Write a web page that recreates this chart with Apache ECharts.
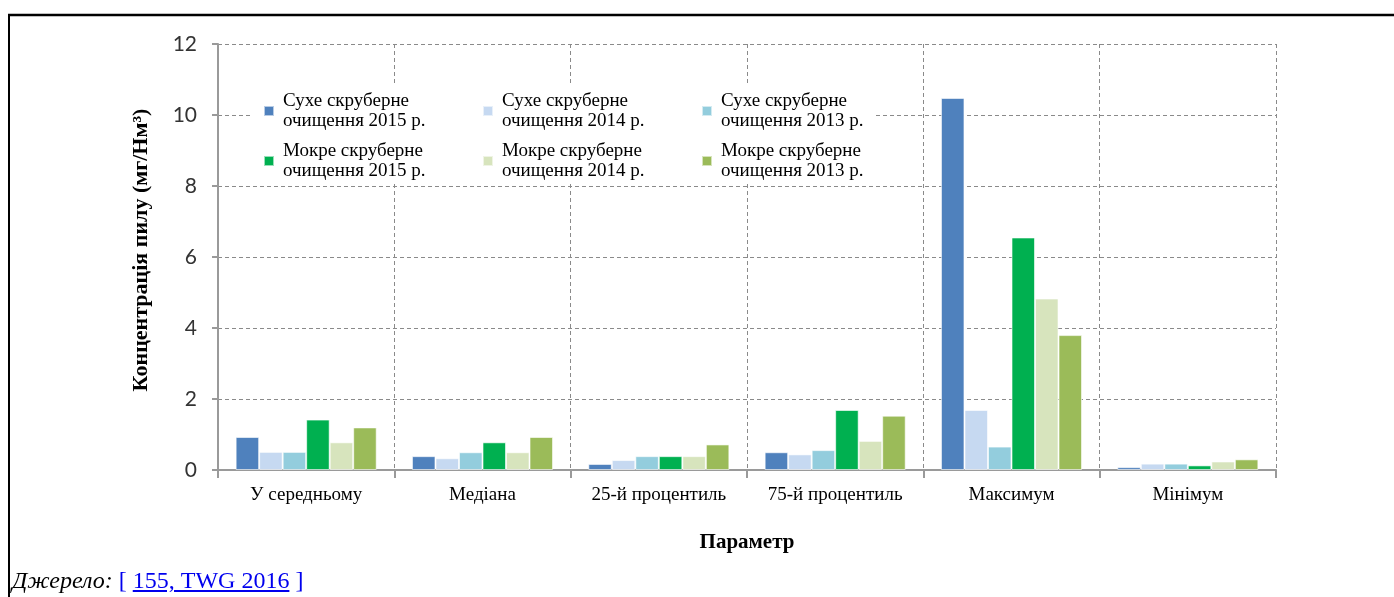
<!DOCTYPE html>
<html><head><meta charset="utf-8">
<script src="https://cdn.jsdelivr.net/npm/echarts@6/dist/echarts.min.js"></script>
<style>html,body{margin:0;padding:0;background:#fff}#c{width:1394px;height:597px}
#src{position:absolute;left:12px;top:567px;font-family:"Liberation Serif","Times New Roman",serif;font-size:24px;color:#000;white-space:nowrap}
#src a{color:#0000ee}
#src i{font-style:italic}</style>
</head><body><div id="c"></div>
<div id="src"><i>Джерело:</i> <span style="color:#0000ee">[ <a href="#">155, TWG 2016</a> ]</span></div>
<script>
const categories = ['У середньому', 'Медіана', '25-й процентиль', '75-й процентиль', 'Максимум', 'Мінімум'];
const seriesNames = [
  'Сухе скруберне\nочищення 2015 р.', 'Сухе скруберне\nочищення 2014 р.', 'Сухе скруберне\nочищення 2013 р.',
  'Мокре скруберне\nочищення 2015 р.', 'Мокре скруберне\nочищення 2014 р.', 'Мокре скруберне\nочищення 2013 р.'
];
const dry2015 = [0.93, 0.39, 0.17, 0.50, 10.48, 0.08];
const dry2014 = [0.51, 0.33, 0.28, 0.44, 1.69, 0.18];
const dry2013 = [0.51, 0.50, 0.39, 0.56, 0.66, 0.18];
const wet2015 = [1.42, 0.78, 0.39, 1.69, 6.55, 0.13];
const wet2014 = [0.78, 0.50, 0.39, 0.82, 4.83, 0.24];
const wet2013 = [1.20, 0.93, 0.72, 1.53, 3.80, 0.30];
const yTicks = [0, 2, 4, 6, 8, 10, 12];
const colors = ['#4F81BD', '#C6D9F1', '#93CDDD', '#00B050', '#D7E4BD', '#9BBB59'];
const allData = [dry2015, dry2014, dry2013, wet2015, wet2014, wet2013];

const chart = echarts.init(document.getElementById('c'), null, {renderer: 'canvas'});
const serif = '"Liberation Serif", "Times New Roman", serif';
const legendText = {fontFamily: serif, fontSize: 19, color: '#000', lineHeight: 20, width: 180, padding: [0, 0, 0, 4]};
const option = {
  animation: false,
  color: colors,
  grid: {left: 218, right: 118, top: 44, bottom: 127},
  legend: [
    {data: seriesNames.slice(0, 3), left: 263, top: 91, itemWidth: 10, itemHeight: 10, itemGap: 19,
     icon: 'rect', textStyle: legendText, padding: 0, selectedMode: false},
    {data: seriesNames.slice(3, 6), left: 263, top: 141, itemWidth: 10, itemHeight: 10, itemGap: 19,
     icon: 'rect', textStyle: legendText, padding: 0, selectedMode: false}
  ],
  xAxis: {
    type: 'category', data: categories,
    name: 'Параметр', nameLocation: 'middle', nameGap: 62,
    nameTextStyle: {fontFamily: serif, fontSize: 21, fontWeight: 'bold', color: '#000'},
    axisLine: {lineStyle: {color: '#9a9a9a', width: 2}},
    axisTick: {show: true, length: 8, lineStyle: {color: '#9a9a9a', width: 2}},
    axisLabel: {fontFamily: serif, fontSize: 19, color: '#000', margin: 16},
    splitLine: {show: true, lineStyle: {color: '#8a8a8a', type: [4, 3], width: 1}}
  },
  yAxis: {
    type: 'value', min: 0, max: 12, interval: 2,
    name: 'Концентрація пилу (мг/Нм³)', nameLocation: 'middle', nameGap: 66,
    nameTextStyle: {fontFamily: serif, fontSize: 22, fontWeight: 'bold', color: '#000', padding: [0, 0, 0, 14]},
    axisLine: {show: true, lineStyle: {color: '#9a9a9a', width: 2}},
    axisTick: {show: true, length: 6, lineStyle: {color: '#9a9a9a', width: 2}},
    axisLabel: {fontFamily: 'Lato, "Open Sans", sans-serif', fontSize: 21, color: '#333', margin: 21,
      formatter: v => yTicks.includes(v) ? String(v) : ''},
    splitLine: {show: true, lineStyle: {color: '#8a8a8a', type: [4, 3], width: 1}}
  },
  series: allData.map((d, i) => ({
    name: seriesNames[i], type: 'bar', data: d, barGap: '0%', barCategoryGap: '20%',
    itemStyle: {color: colors[i], borderColor: 'rgba(255,255,255,0.6)', borderWidth: 1}
  })),
  graphic: [
    {type: 'rect', z: 3, shape: {x: 252, y: 84, width: 622, height: 99}, style: {fill: '#fff'}},
    {type: 'line', z: 10, shape: {x1: 8, y1: 15, x2: 1394, y2: 15}, style: {stroke: '#000', lineWidth: 2.5}},
    {type: 'line', z: 10, shape: {x1: 9, y1: 14, x2: 9, y2: 597}, style: {stroke: '#000', lineWidth: 2}}
  ]
};
chart.setOption(option);
</script></body></html>
